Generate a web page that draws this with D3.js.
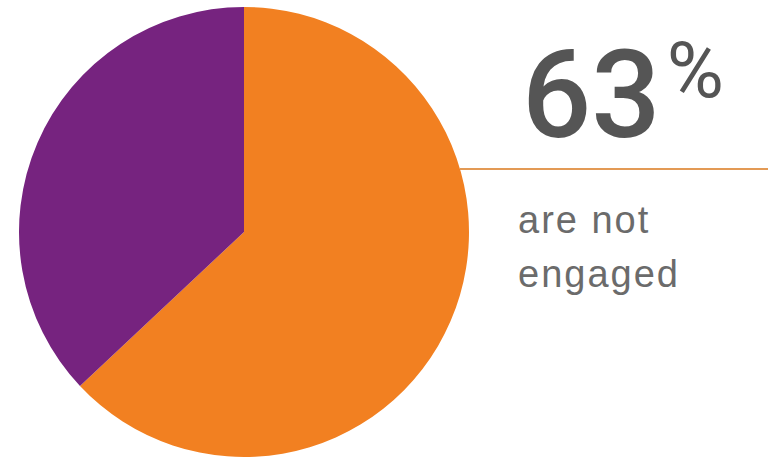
<!DOCTYPE html>
<html>
<head>
<meta charset="utf-8">
<script src="https://cdn.jsdelivr.net/npm/d3@7"></script>
<style>
  html, body { margin: 0; padding: 0; background: #fff; }
  svg { display: block; }
</style>
</head>
<body>
<svg id="chart" width="771" height="463"></svg>
<script>
// chart data
const labels = ["not engaged", "engaged"];
const values = [63, 37];
const colors = ["#f28021", "#76237f"];
const headline = "63";
const caption = ["are not", "engaged"];

const svg = d3.select("#chart");
const cx = 244, cy = 232, radius = 225;

const pie = d3.pie().sort(null).value(d => d);
const arc = d3.arc().innerRadius(0).outerRadius(radius);

svg.append("g")
    .attr("transform", `translate(${cx},${cy})`)
    .selectAll("path")
    .data(pie(values))
    .join("path")
    .attr("d", arc)
    .attr("fill", (d, i) => colors[i]);

// callout line
svg.append("line")
    .attr("x1", 460).attr("x2", 768)
    .attr("y1", 169).attr("y2", 169)
    .attr("stroke", "#e39a55")
    .attr("stroke-width", 2);

// big number
const big = svg.append("text")
    .attr("x", 522)
    .attr("y", 137)
    .attr("fill", "#555555")
    .attr("font-family", "Roboto, 'Open Sans', sans-serif")
    .attr("font-weight", 500)
    .attr("font-size", 122);
big.append("tspan").text(headline);
big.append("tspan")
    .attr("font-size", 78)
    .attr("font-weight", 400)
    .attr("dy", -40)
    .attr("dx", 6)
    .text("%");

// caption
svg.append("g")
    .selectAll("text")
    .data(caption)
    .join("text")
    .attr("x", 518)
    .attr("y", (d, i) => 233 + i * 54)
    .attr("fill", "#6b6b6b")
    .attr("font-family", "'Liberation Sans', Arial, sans-serif")
    .attr("font-size", 38)
    .attr("letter-spacing", 2)
    .text(d => d);
</script>
</body>
</html>
